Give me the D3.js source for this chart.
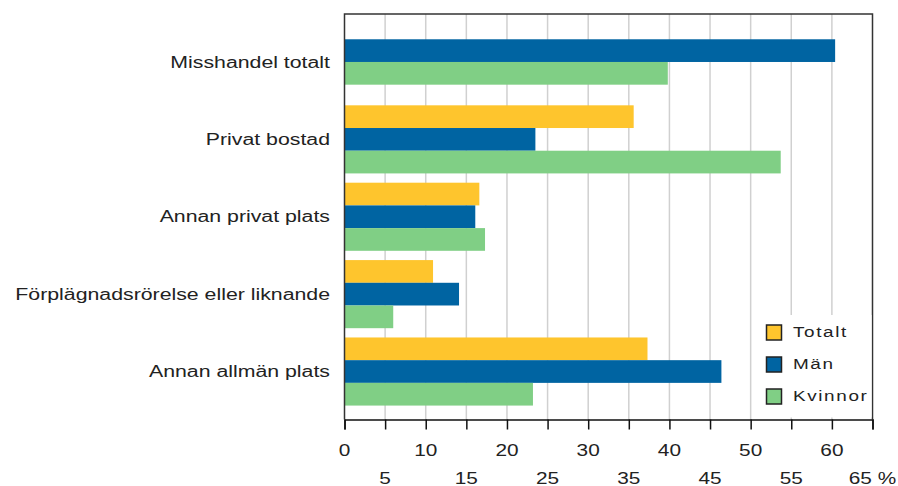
<!DOCTYPE html>
<html lang="sv">
<head>
<meta charset="UTF-8">
<title>Misshandel efter plats</title>
<script src="https://d3js.org/d3.v7.js"></script>
<style>
  body { margin: 0; background: #fff; }
  text { font-family: "Liberation Sans", Arial, sans-serif; }
</style>
</head>
<body>
<div id="chart"></div>
<script>
const categories = ["Misshandel totalt", "Privat bostad", "Annan privat plats",
  "Förplägnadsrörelse eller liknande", "Annan allmän plats"];
const seriesNames = ["Totalt", "Män", "Kvinnor"];
const totalt  = [null, 35.6, 16.6, 10.9, 37.3];
const man     = [60.4, 23.5, 16.1, 14.1, 46.4];
const kvinnor = [39.8, 53.7, 17.3, 6.0, 23.2];
const xTicks = d3.range(0, 66, 5);
const colors = ["#fec52d", "#0064a2", "#80cf85"];

const W = 898, H = 486;
const plotL = 344.5, plotR = 872.5, plotT = 14, plotB = 419.5;

// the original text is drawn wide, so stretch glyphs horizontally
function stretch(sel, k) {
  sel.each(function () {
    const len = this.getComputedTextLength();
    d3.select(this).attr("textLength", len * k).attr("lengthAdjust", "spacingAndGlyphs");
  });
}

const svg = d3.select("#chart").append("svg")
  .attr("width", W).attr("height", H);

const x = d3.scaleLinear().domain([0, 65]).range([plotL, plotR]);
const y = d3.scaleBand().domain(categories).range([plotT, plotB])
  .paddingInner(0.12).paddingOuter(0.18);

// grid
svg.append("g").selectAll("line")
  .data(xTicks.slice(1, -1))
  .enter().append("line")
  .attr("x1", d => x(d)).attr("x2", d => x(d))
  .attr("y1", plotT).attr("y2", plotB)
  .attr("stroke", "#d0d0d0").attr("stroke-width", 1.5);

// bars
const rows = categories.map((c, i) => ({
  cat: c,
  vals: [totalt[i], man[i], kvinnor[i]]
    .map((v, j) => ({ v: v, s: j }))
    .filter(d => d.v != null)
}));
const barH = y.bandwidth() / 3;

rows.forEach(r => {
  const off = y(r.cat) + (y.bandwidth() - barH * r.vals.length) / 2;
  svg.append("g").selectAll("rect")
    .data(r.vals)
    .enter().append("rect")
    .attr("x", x(0))
    .attr("y", (d, k) => off + k * barH)
    .attr("width", d => x(d.v) - x(0))
    .attr("height", barH)
    .attr("fill", d => colors[d.s]);
});

// frame
svg.append("path")
  .attr("d", `M${plotL},${plotB}V${plotT}H${plotR}V${plotB}`)
  .attr("fill", "none").attr("stroke", "#333").attr("stroke-width", 1.5);

// x axis
const ax = svg.append("g").attr("transform", `translate(0,${plotB})`)
  .call(d3.axisBottom(x).tickValues(xTicks).tickSize(10).tickFormat(""));
ax.select(".domain").attr("stroke", "#111").attr("stroke-width", 1.5);
ax.selectAll(".tick line").attr("stroke", "#111").attr("stroke-width", 1.5);

svg.append("g").selectAll("text")
  .data(xTicks)
  .enter().append("text")
  .attr("x", d => x(d))
  .attr("y", (d, i) => i % 2 === 0 ? 456 : 484)
  .attr("text-anchor", "middle")
  .attr("font-size", 16)
  .attr("fill", "#222")
  .text(d => d === 65 ? "65 %" : d)
  .call(stretch, 1.3);

// category labels
svg.append("g").selectAll("text")
  .data(categories)
  .enter().append("text")
  .attr("x", 330)
  .attr("y", d => y(d) + y.bandwidth() / 2)
  .attr("dy", "0.35em")
  .attr("text-anchor", "end")
  .attr("font-size", 16)
  .attr("fill", "#222")
  .text(d => d)
  .call(stretch, 1.33);

// legend
const lg = svg.append("g");
lg.append("rect").attr("x", 757).attr("y", 315)
  .attr("width", plotR - 757 - 1).attr("height", plotB - 315 - 2)
  .attr("fill", "#fff");
seriesNames.forEach((s, i) => {
  const yy = 325 + i * 32;
  lg.append("rect").attr("x", 766.5).attr("y", yy)
    .attr("width", 15).attr("height", 15)
    .attr("fill", colors[i]).attr("stroke", "#222").attr("stroke-width", 1.5);
  lg.append("text").attr("x", 793).attr("y", yy + 7.5).attr("dy", "0.35em")
    .attr("font-size", 14).attr("letter-spacing", 1.2).attr("fill", "#222")
    .text(s)
    .call(stretch, 1.35);
});
</script>
</body>
</html>
